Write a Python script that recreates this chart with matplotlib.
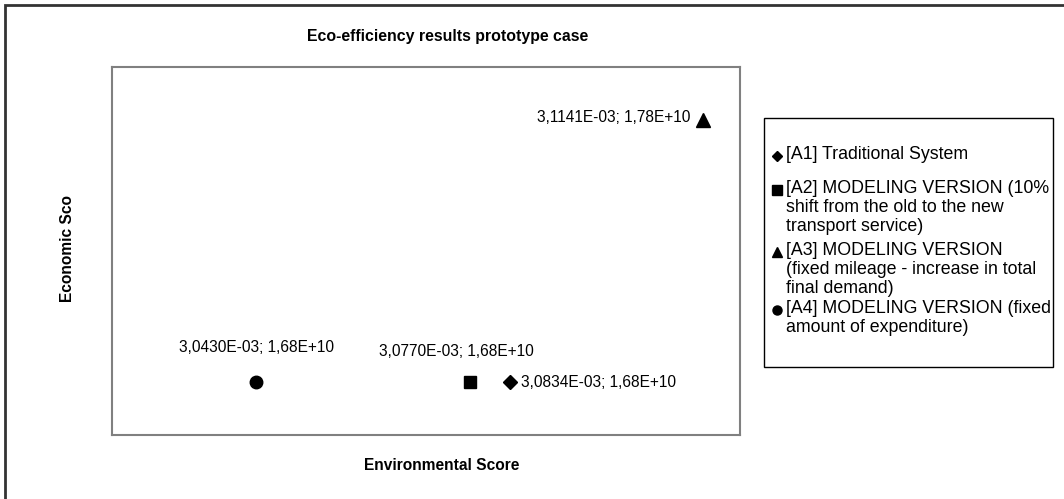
import matplotlib
matplotlib.use("Agg")
import matplotlib.pyplot as plt
from matplotlib.lines import Line2D
from matplotlib.patches import Rectangle

plt.rcParams['font.family'] = ['Liberation Sans', 'DejaVu Sans']

# Data
names = ["[A1] Traditional System",
         "[A2] MODELING VERSION (10%\nshift from the old to the new\ntransport service)",
         "[A3] MODELING VERSION\n(fixed mileage - increase in total\nfinal demand)",
         "[A4] MODELING VERSION (fixed\namount of expenditure)"]
env_score = [3.0834e-3, 3.0770e-3, 3.1141e-3, 3.0430e-3]
eco_score = [1.68e10, 1.68e10, 1.78e10, 1.68e10]
point_labels = ["3,0834E-03; 1,68E+10", "3,0770E-03; 1,68E+10",
                "3,1141E-03; 1,78E+10", "3,0430E-03; 1,68E+10"]
markers = ["D", "s", "^", "o"]
msizes = [7, 8.5, 9.5, 9]
# label offsets in pixels (dx, dy) and alignment
offsets = [(11, 0, 'left'), (-14, 31, 'center'), (-13, 2, 'right'), (0, 35, 'center')]

W, H = 1064, 499
fig = plt.figure(figsize=(W / 100, H / 100), dpi=100)

def fx(px):
    return px / W

def fy(py):
    return 1 - py / H

ax = fig.add_axes([fx(112), fy(435), fx(740) - fx(112), fy(67) - fy(435)])
ax.set_xlim(3.020e-3, 3.120e-3)
ax.set_ylim(1.66e10, 1.80e10)
ax.set_xticks([])
ax.set_yticks([])
for s in ax.spines.values():
    s.set_color('#808080')
    s.set_linewidth(1.5)

for x, y, m, ms, lab, (dx, dy, ha) in zip(env_score, eco_score, markers, msizes, point_labels, offsets):
    ax.plot([x], [y], marker=m, color='black', markersize=ms, linestyle='none', clip_on=False)
    ax.annotate(lab, (x, y), xytext=(dx * 0.72, dy * 0.72), textcoords='offset points',
                ha=ha, va='center', fontsize=11.2)

fig.text(fx(448), fy(37), "Eco-efficiency results prototype case", ha='center', va='center',
         fontsize=11.4, fontweight='bold')
fig.text(fx(442), fy(466), "Environmental Score", ha='center', va='center',
         fontsize=11.2, fontweight='bold')
fig.text(fx(67), fy(302), "Economic Sco", ha='center', va='bottom', rotation=90,
         fontsize=11.2, fontweight='bold')

# outer chart border (extends beyond right/bottom edge)
fig.add_artist(Rectangle((fx(5), fy(W)), 2, fy(5) - fy(W), transform=fig.transFigure,
                         fill=False, edgecolor='#333333', linewidth=2))

# legend box
fig.add_artist(Rectangle((fx(764), fy(367)), fx(1053) - fx(764), fy(118) - fy(367),
                         transform=fig.transFigure, fill=False, edgecolor='black', linewidth=1))
leg_y = [156, 190, 252, 310]
for name, m, y in zip(names, markers, leg_y):
    fig.add_artist(Line2D([fx(777)], [fy(y)], marker=m, color='black',
                          markersize={'D': 5.5, 's': 6.5, '^': 7, 'o': 6.5}[m],
                          linestyle='none', transform=fig.transFigure))
    fig.text(fx(786), fy(y - 10), name, ha='left', va='top', fontsize=12.8, linespacing=1.15)

fig.savefig("out.png", dpi=100)
